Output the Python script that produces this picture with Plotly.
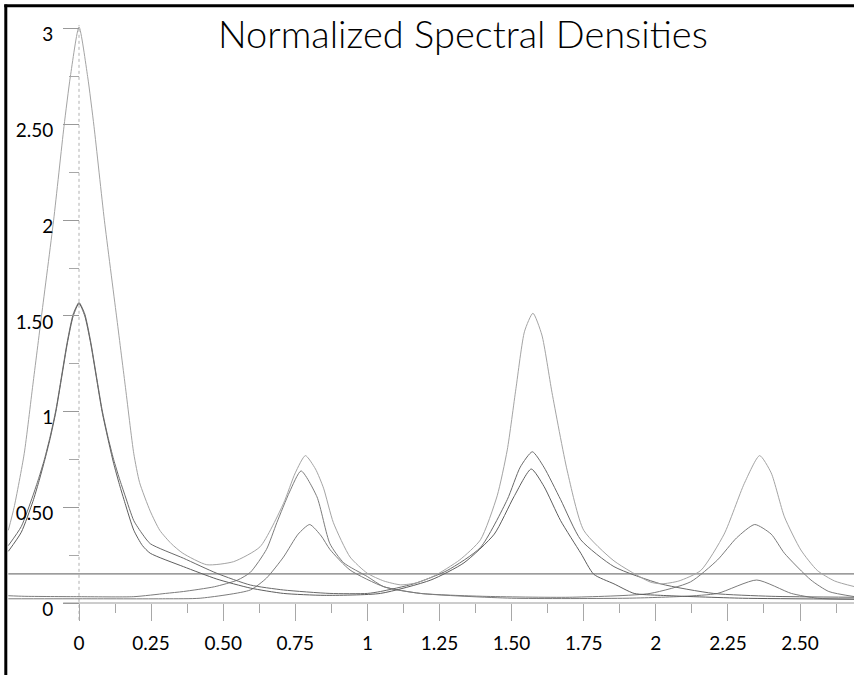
import plotly.graph_objects as go

# ---------------- data ----------------
x_total = [-0.245, -0.225, -0.19, -0.16, -0.13, -0.088, -0.052, -0.03, 0.0, 0.03, 0.052, 0.088, 0.13, 0.16,
           0.19, 0.21, 0.247, 0.28, 0.32, 0.36, 0.443, 0.536, 0.628, 0.709, 0.75, 0.785, 0.82, 0.848, 0.882, 0.94,
           1.0, 1.057, 1.115, 1.17, 1.23, 1.32, 1.392, 1.45, 1.485, 1.515, 1.545, 1.574, 1.605, 1.64, 1.693,
           1.75, 1.855, 1.98, 2.02, 2.08, 2.156, 2.237, 2.307, 2.36, 2.4, 2.446, 2.503, 2.56, 2.62, 2.69]
y_total = [0.38, 0.50, 0.78, 1.14, 1.50, 2.00, 2.49, 2.75, 3.01, 2.75, 2.49, 2.00, 1.50, 1.14,
           0.78, 0.63, 0.48, 0.38, 0.31, 0.26, 0.20, 0.216, 0.294, 0.52, 0.68, 0.77, 0.70, 0.60, 0.42, 0.24,
           0.155, 0.115, 0.095, 0.105, 0.14, 0.225, 0.33, 0.56, 0.80, 1.12, 1.42, 1.514, 1.40, 1.10, 0.69,
           0.38, 0.22, 0.11, 0.10, 0.115, 0.17, 0.36, 0.625, 0.77, 0.68, 0.45, 0.277, 0.17, 0.115, 0.085]

x_comp1 = [-0.245, -0.2, -0.16, -0.14, -0.12, -0.10, -0.08, -0.06, -0.04, -0.02, 0.0, 0.02, 0.04, 0.06, 0.08,
           0.10, 0.12, 0.14, 0.16, 0.19, 0.22, 0.247, 0.362, 0.478, 0.594, 0.709, 0.87, 1.0, 1.045, 1.16, 1.277,
           1.392, 1.485, 1.53, 1.572, 1.612, 1.67, 1.74, 1.855, 2.017, 2.2, 2.4, 2.69]
y_comp1 = [0.30, 0.40, 0.56, 0.65, 0.75, 0.87, 1.01, 1.19, 1.37, 1.51, 1.57, 1.51, 1.37, 1.19, 1.01,
           0.87, 0.75, 0.65, 0.56, 0.43, 0.36, 0.31, 0.234, 0.155, 0.094, 0.068, 0.05, 0.05, 0.06, 0.10, 0.17,
           0.29, 0.54, 0.71, 0.79, 0.71, 0.54, 0.33, 0.19, 0.10, 0.05, 0.035, 0.03]

x_comp2 = [-0.245, -0.2, -0.16, -0.14, -0.12, -0.10, -0.08, -0.06, -0.04, -0.02, 0.0, 0.02, 0.04, 0.06, 0.08,
           0.10, 0.12, 0.14, 0.16, 0.19, 0.22, 0.247, 0.362, 0.478, 0.594, 0.709, 0.85, 1.045, 1.22, 1.335,
           1.44, 1.508, 1.568, 1.612, 1.67, 1.74, 1.785, 1.855, 1.925, 2.017, 2.3, 2.69]
y_comp2 = [0.27, 0.37, 0.53, 0.63, 0.74, 0.86, 1.00, 1.18, 1.36, 1.50, 1.565, 1.50, 1.36, 1.18, 1.00,
           0.86, 0.73, 0.62, 0.52, 0.38, 0.30, 0.26, 0.19, 0.125, 0.078, 0.05, 0.04, 0.05, 0.12, 0.21,
           0.36, 0.555, 0.70, 0.61, 0.43, 0.26, 0.15, 0.10, 0.05, 0.04, 0.025, 0.02]

x_comp3 = [-0.245, -0.19, 0.0, 0.19, 0.30, 0.362, 0.47, 0.55, 0.594, 0.65, 0.686, 0.73, 0.77, 0.825, 0.87,
           0.918, 1.0, 1.057, 1.184, 1.4, 1.7, 1.98, 2.12, 2.214, 2.28, 2.343, 2.40, 2.446, 2.538, 2.60, 2.69]
y_comp3 = [0.038, 0.035, 0.033, 0.033, 0.05, 0.06, 0.085, 0.12, 0.16, 0.28, 0.42, 0.58, 0.69, 0.555, 0.31,
           0.21, 0.138, 0.085, 0.05, 0.035, 0.03, 0.05, 0.11, 0.225, 0.34, 0.41, 0.36, 0.26, 0.12, 0.06, 0.033]

x_comp4 = [-0.245, 0.0, 0.3, 0.42, 0.594, 0.65, 0.709, 0.76, 0.80, 0.84, 0.87, 0.94, 1.057, 1.184, 1.5,
           1.9, 2.1, 2.214, 2.35, 2.47, 2.56, 2.69]
y_comp4 = [0.022, 0.022, 0.022, 0.025, 0.068, 0.13, 0.24, 0.36, 0.41, 0.35, 0.28, 0.172, 0.085, 0.05, 0.025,
           0.025, 0.035, 0.05, 0.12, 0.05, 0.025, 0.02]

x_flat = [-0.245, 2.69]
y_flat = [0.152, 0.152]

x_tickvals = [0, 0.25, 0.5, 0.75, 1, 1.25, 1.5, 1.75, 2, 2.25, 2.5]
x_ticktext = ["0", "0.25", "0.50", "0.75", "1", "1.25", "1.50", "1.75", "2", "2.25", "2.50"]
x_minor = [0.125, 0.375, 0.625, 0.875, 1.125, 1.375, 1.625, 1.875, 2.125, 2.375, 2.625]
y_tickvals = [0, 0.5, 1, 1.5, 2, 2.5, 3]
y_ticktext = ["0", "0.50", "1", "1.50", "2", "2.50", "3"]
y_minor = [0.25, 0.75, 1.25, 1.75, 2.25, 2.75]

title_text = "Normalized Spectral Densities"

# ---------------- figure ----------------
W, H = 854, 675
X0PX, XSCALE = 79.0, 288.4
Y0PX, YSCALE = 603.0, 191.4
xr = [-X0PX / XSCALE, (W - X0PX) / XSCALE]
yr = [-(H - Y0PX) / YSCALE, Y0PX / YSCALE]

fig = go.Figure()

series = [
    (x_flat, y_flat, "#5a5a5a"),
    (x_comp4, y_comp4, "#7c7c7c"),
    (x_comp3, y_comp3, "#7c7c7c"),
    (x_comp2, y_comp2, "#5e5e5e"),
    (x_comp1, y_comp1, "#6a6a6a"),
    (x_total, y_total, "#a4a4a4"),
]
for xs, ys, col in series:
    fig.add_trace(go.Scatter(x=xs, y=ys, mode="lines",
                             line=dict(color=col, width=1, shape="spline", smoothing=0.6),
                             hoverinfo="skip", showlegend=False))

FONT = "Lato, 'Open Sans', sans-serif"
tickfont = dict(family=FONT, size=19, color="black")

fig.update_layout(
    template="none",
    width=W, height=H,
    margin=dict(l=0, r=0, t=0, b=0),
    paper_bgcolor="white", plot_bgcolor="white",
    xaxis=dict(range=xr, anchor="free", position=(H - Y0PX) / H,
               showgrid=False, zeroline=False, showline=False,
               tickmode="array", tickvals=x_tickvals, ticktext=x_ticktext,
               ticks="outside", ticklen=17, tickwidth=1, tickcolor="#a8a8a8",
               tickfont=tickfont, ticklabelstandoff=6, automargin=False,
               minor=dict(tickmode="array", tickvals=x_minor, ticks="outside",
                          ticklen=9, tickwidth=1, tickcolor="#a8a8a8", showgrid=False)),
    yaxis=dict(range=yr, anchor="free", position=X0PX / W, side="left",
               showgrid=False, zeroline=False, showline=False,
               tickmode="array", tickvals=y_tickvals, ticktext=y_ticktext,
               ticks="outside", ticklen=16, tickwidth=1, tickcolor="#999999",
               tickfont=tickfont, ticklabelstandoff=6, ticklabelshift=6, automargin=False,
               minor=dict(tickmode="array", tickvals=y_minor, ticks="outside",
                          ticklen=10, tickwidth=1, tickcolor="#a8a8a8", showgrid=False)),
)

# axes lines
fig.add_shape(type="line", xref="x", yref="y", x0=-0.055, x1=xr[1], y0=0, y1=0,
              line=dict(color="#9a9a9a", width=1), layer="below")
fig.add_shape(type="line", xref="x", yref="y", x0=0, x1=0, y0=-0.088, y1=3.02,
              line=dict(color="#b0b0b0", width=1, dash="dot"), layer="below")

# frame (left and top black edges)
fig.add_shape(type="line", xref="paper", yref="paper", x0=5.8 / W, x1=5.8 / W, y0=0, y1=1 - 4.5 / H,
              line=dict(color="black", width=3))
fig.add_shape(type="line", xref="paper", yref="paper", x0=4.3 / W, x1=1, y0=1 - 5.8 / H, y1=1 - 5.8 / H,
              line=dict(color="black", width=3))

fig.add_annotation(text=title_text, xref="paper", yref="paper", x=463 / W, y=1 - 33 / H,
                   xanchor="center", yanchor="middle", showarrow=False,
                   font=dict(family=FONT, size=38, color="black", weight=300))

fig.write_html("out.html", config={"displayModeBar": False},
               post_script="document.body.style.margin='0';document.body.style.overflow='hidden';")
